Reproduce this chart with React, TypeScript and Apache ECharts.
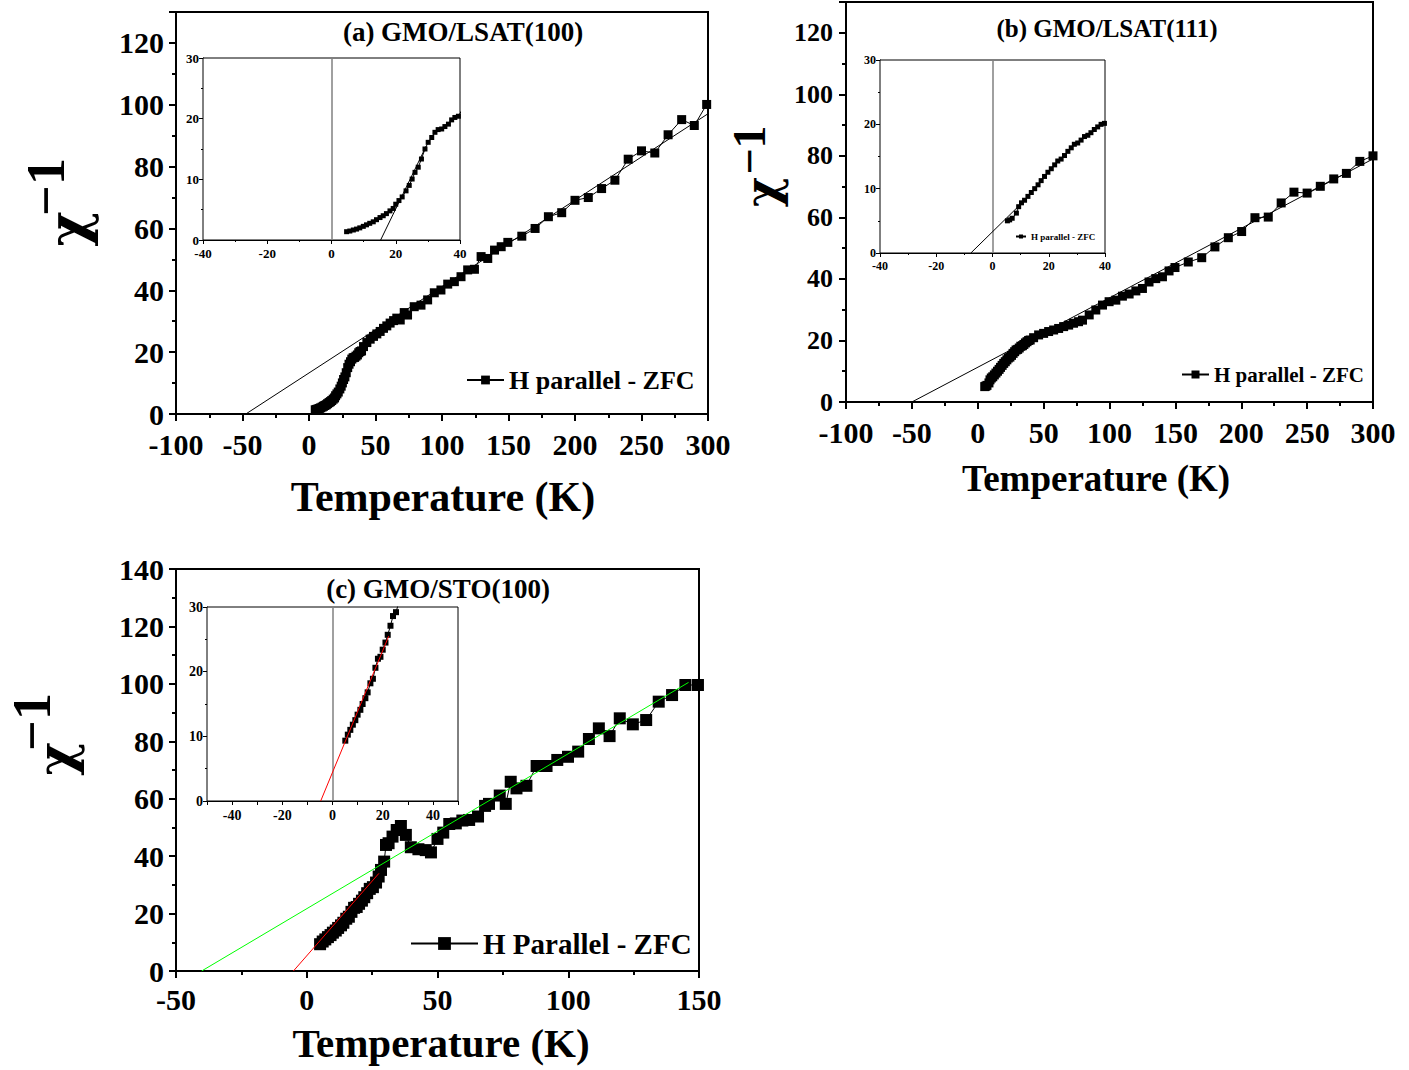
import { useEffect, useRef } from 'react';
import * as echarts from 'echarts';

// (a) GMO/LSAT(100) — temperature (K) and inverse susceptibility
const aTemp = [
  4.7, 5.7, 6.8, 7.8, 8.8, 9.9, 10.9, 11.9, 13, 14, 15.1, 16.1, 17.1, 18.2, 19.2, 20, 21, 22, 23.2, 24.2,
  25.1, 26, 27, 28, 29.1, 30.1, 31.2, 32.2, 33.2, 34.3, 35.3, 36.4, 37.4, 38.4, 39.5,
  41, 43.5, 46, 48.5, 51, 53.5, 56, 58.5, 61, 63.6, 66, 68.6, 71.6, 74.1, 79.1, 84.2, 89.2, 94.2, 99.2, 104.3,
  109.3, 114.3, 119.3, 124.4, 129.4, 134.4, 139.5, 144.5, 149.5, 160, 170, 180, 190, 200, 210, 220, 230, 240,
  250, 260, 270, 280.2, 289.7, 299,
];
const aChi = [
  1.37, 1.48, 1.65, 1.8, 2.0, 2.25, 2.5, 2.75, 3.0, 3.35, 3.7, 4.0, 4.35, 4.8, 5.2, 5.9, 6.5, 7.1, 8.1, 9.0,
  10.05, 11.15, 12, 13.35, 15.0, 16.1, 16.9, 17.75, 18.2, 18.3, 18.7, 19.1, 19.8, 20.2, 20.4,
  21.8, 23.1, 24.2, 25.1, 25.9, 26.7, 27.7, 28.5, 29.4, 30.2, 31, 30.4, 32.8, 32, 34.7, 35.2, 36.9, 39.2, 40.1, 42,
  42.8, 44.4, 46.6, 46.8, 50.9, 50.3, 53, 54.1, 55.5, 57.5, 60, 63.8, 65.1, 69.1, 70, 72.9, 75.6, 82.4,
  85.1, 84.4, 90.3, 95.2, 93.3, 100.1,
];
const aFitTemp = [-47.5, 300];
const aFitChi = [0, 97.1];
const aInsetFitTemp = [15.3, 29.5];
const aInsetFitChi = [0, 15.5];

// (b) GMO/LSAT(111)
const bTemp = [
  5.3, 6.1, 7, 8.5, 9.3, 10.3, 11.4, 12.6, 13.8, 15, 16.2, 17.3, 18.5, 19.7, 20.9, 22.1, 23.2, 24.4, 25.6, 26.8,
  28, 29.1, 30.3, 31.5, 32.7, 33.9, 35, 36.2, 37.4, 38.6, 39.8,
  42.4, 46.2, 50, 53.8, 57.6, 61.4, 65.2, 69, 72.7, 76.5, 79.5, 84.6, 89.6, 94.7, 99.7, 104.8, 109.8, 114.9, 120, 125,
  130, 135.1, 140.2, 145.2, 149.7, 159.8, 170, 180, 190.2, 200.3, 210.4, 220.5, 230.3, 240, 250, 260, 270.2, 279.8,
  290, 300,
];
const bChi = [
  5.0, 5.15, 5.4, 6.2, 7.2, 7.8, 8.2, 8.8, 9.4, 10, 10.6, 11.25, 11.9, 12.55, 13.1, 13.7, 14.3, 14.6, 15.15, 15.8,
  16.35, 16.9, 17.1, 17.55, 18.1, 18.3, 18.7, 19.2, 19.6, 20, 20.15,
  20.9, 21.8, 22.3, 22.9, 23.4, 23.9, 24.5, 25, 25.6, 26.1, 26.6, 28.3, 29.9, 31.5, 32.6, 33.1, 34.4, 35.1, 36.1, 36.9,
  39, 40.1, 40.7, 42.6, 43.7, 45.5, 46.9, 50.4, 53.4, 55.4, 59.9, 60.1, 64.7, 68.2, 67.9, 70.1, 72.5, 74.3,
  78.2, 80,
];
const bFitTemp = [-50, 300];
const bFitChi = [0, 79];
const bInsetFitTemp = [-7.7, 14];
const bInsetFitChi = [0, 9.3];

// (c) GMO/STO(100)
const cTemp = [
  5.1, 6.1, 7.1, 8.1, 9.1, 10, 11.1, 12, 13.1, 14, 15.1, 16.1, 17.1, 18.1, 19.1, 20, 21.1, 22, 23.1, 24.1, 25.3,
  26.5, 27.5, 28.4, 29.6, 30.3, 31.3, 32.8, 34.4, 36, 37.9, 39.8, 42.7, 45.5, 47.5, 50, 52.2, 54.5, 57, 59.5, 62.1,
  65.5, 68.2, 69.7, 73.8, 76.1, 78, 80.2, 84, 87.9, 91.7, 95.8, 99.9, 103.8, 107.9, 111.7, 115.8, 119.7, 124.7,
  129.8, 134.6, 139.7, 144.8, 149.6,
];
const cChi = [
  9.33, 10.26, 11, 11.8, 12.5, 13.35, 14.1, 15, 15.9, 16.8, 18.2, 18.9, 20.6, 22, 22.3, 23.4, 24.5, 25.7, 27.1, 28.6, 29.2,
  30.8, 32.9, 35.2, 38.1, 43.9, 44.5, 46.8, 49.1, 50.5, 47.4, 43.1, 42.4, 42.1, 41.3, 46, 48.2, 51.2, 51.4, 52.4, 52.6,
  53.8, 57.5, 58.2, 61.1, 58.2, 65.9, 63.6, 64.5, 71.4, 71.4, 73.5, 74.6, 76.4, 80.8, 84.5, 81.8, 88, 85.9,
  87.4, 93.8, 96.1, 99.6, 99.6,
];
const cGreenFitTemp = [-40.2, 146];
const cGreenFitChi = [0, 100.5];
const cRedFitTemp = [-5.1, 27.6];
const cRedFitChi = [0, 34];
const cInsetFitTemp = [-4.7, 22.4];
const cInsetFitChi = [0, 25.5];

const FONT = '"Liberation Serif", "Times New Roman", serif';
const CHI_FONT = '"DejaVu Serif", "Liberation Serif", serif';
const zip = (xs: number[], ys: number[]) => xs.map((x, i) => [x, ys[i]]);

const axis = (
  gridIndex: number,
  min: number,
  max: number,
  interval: number,
  fontSize: number,
  margin: number,
  big: boolean,
  extra: any = {},
) => ({
  type: 'value',
  gridIndex,
  min,
  max,
  interval,
  axisLine: { show: true, onZero: false, lineStyle: { color: '#000', width: big ? 2 : 1 } },
  axisTick: { show: true, inside: false, length: big ? 7 : 4, lineStyle: { color: '#000', width: big ? 2 : 1 } },
  minorTick: { show: true, splitNumber: 2, length: big ? 4 : 2, lineStyle: { color: '#000', width: big ? 2 : 1 } },
  axisLabel: { fontSize, fontWeight: 'bold', fontFamily: FONT, color: '#000', margin, ...(extra.label || {}) },
  splitLine: { show: false },
  minorSplitLine: { show: false },
  ...(extra.minorTick ? { minorTick: extra.minorTick } : {}),
});

const dataSeries = (name: string, idx: number, xs: number[], ys: number[], size: number, zeroLine = false) => ({
  name,
  type: 'line',
  xAxisIndex: idx,
  yAxisIndex: idx,
  data: zip(xs, ys),
  symbol: 'rect',
  symbolSize: size,
  lineStyle: { color: '#000', width: 1 },
  itemStyle: { color: '#000' },
  z: idx % 2 ? 6 : 2,
  markLine: zeroLine
    ? {
        silent: true,
        symbol: ['none', 'none'],
        label: { show: false },
        lineStyle: { color: '#808080', width: 1.5, type: 'solid' },
        data: [{ xAxis: 0 }],
      }
    : undefined,
});

const fitSeries = (idx: number, xs: number[], ys: number[], color = '#000') => ({
  type: 'line',
  xAxisIndex: idx,
  yAxisIndex: idx,
  data: zip(xs, ys),
  symbol: 'none',
  lineStyle: { color, width: 1 },
  z: idx % 2 ? 7 : 3,
});

const txt = (x: number, y: number, text: string, fontSize: number, rotation = 0, fontFamily = FONT) => ({
  type: 'text',
  x,
  y,
  rotation,
  z: 10,
  style: {
    text,
    fontSize,
    fontWeight: 'bold',
    fontFamily,
    fill: '#000',
    align: 'center',
    verticalAlign: 'middle',
  },
});

const legend = (name: string, left: number, top: number, itemWidth: number, itemHeight: number, fontSize: number) => ({
  data: [name],
  left,
  top,
  padding: 0,
  itemWidth,
  itemHeight,
  selectedMode: false,
  textStyle: { fontSize, fontWeight: 'bold', fontFamily: FONT, color: '#000' },
});

const App = () => {
  const chartRef = useRef<HTMLDivElement>(null);

  useEffect(() => {
    if (!chartRef.current) return;
    const chart = echarts.init(chartRef.current, undefined, { renderer: 'svg' });

    const mainGrid = { show: true, borderColor: '#000', borderWidth: 2, backgroundColor: 'transparent' };
    const insetGrid = { show: true, borderColor: '#000', borderWidth: 1, backgroundColor: '#fff', z: 1 };
    const noTop = { label: { showMaxLabel: false } };

    const option: any = {
      animation: false,
      backgroundColor: '#fff',
      grid: [
        { ...mainGrid, left: 176, top: 12, width: 532, height: 402 },
        { ...insetGrid, left: 203, top: 58, width: 257, height: 182 },
        { ...mainGrid, left: 846, top: 2, width: 527, height: 400 },
        { ...insetGrid, left: 880, top: 60, width: 225, height: 193 },
        { ...mainGrid, left: 176, top: 569, width: 523, height: 402 },
        { ...insetGrid, left: 207, top: 607, width: 251, height: 194 },
      ],
      xAxis: [
        axis(0, -100, 300, 50, 30, 15, true),
        axis(1, -40, 40, 20, 13, 7, false),
        axis(2, -100, 300, 50, 30, 15, true),
        axis(3, -40, 40, 20, 12, 7, false),
        axis(4, -50, 150, 50, 30, 13, true),
        axis(5, -50, 50, 10, 14, 7, false, {
          minorTick: { show: false },
          label: { formatter: (v: number) => (v % 20 === 0 ? String(v) : '') },
        }),
      ],
      yAxis: [
        axis(0, 0, 130, 20, 30, 12, true, noTop),
        axis(1, 0, 30, 10, 13, 4, false),
        axis(2, 0, 130, 20, 26, 13, true, noTop),
        axis(3, 0, 30, 10, 12, 4, false),
        axis(4, 0, 140, 20, 30, 12, true),
        axis(5, 0, 30, 10, 14, 4, false),
      ],
      legend: [
        legend('H parallel - ZFC', 466, 367, 37, 11, 26),
        legend('H parallel - ZFC', 1181, 364, 27, 10, 21),
        legend('H parallel - ZFC', 1015, 232, 10, 5, 9),
        legend('H Parallel - ZFC', 410, 929, 67, 16, 29),
      ],
      series: [
        dataSeries('H parallel - ZFC', 0, aTemp, aChi, 9),
        fitSeries(0, aFitTemp, aFitChi),
        dataSeries('a inset', 1, aTemp, aChi, 5, true),
        fitSeries(1, aInsetFitTemp, aInsetFitChi),
        dataSeries('H parallel - ZFC', 2, bTemp, bChi, 9),
        fitSeries(2, bFitTemp, bFitChi),
        dataSeries('b inset', 3, bTemp, bChi, 5, true),
        fitSeries(3, bInsetFitTemp, bInsetFitChi),
        dataSeries('H Parallel - ZFC', 4, cTemp, cChi, 12),
        fitSeries(4, cGreenFitTemp, cGreenFitChi, '#00ff00'),
        fitSeries(4, cRedFitTemp, cRedFitChi, '#ff0000'),
        dataSeries('c inset', 5, cTemp, cChi, 6, true),
        fitSeries(5, cInsetFitTemp, cInsetFitChi, '#ff0000'),
      ],
      graphic: [
        txt(463, 32, '(a) GMO/LSAT(100)', 27),
        txt(1107, 28, '(b) GMO/LSAT(111)', 25),
        txt(438, 589, '(c) GMO/STO(100)', 27),
        txt(443, 497, 'Temperature (K)', 42),
        txt(1096, 478, 'Temperature (K)', 37),
        txt(441, 1043, 'Temperature (K)', 41),
        txt(68, 229, 'χ', 54, Math.PI / 2, CHI_FONT),
        txt(46, 187, '−1', 54, Math.PI / 2),
        txt(762, 192, 'χ', 46, Math.PI / 2, CHI_FONT),
        txt(749, 150, '−1', 46, Math.PI / 2),
        txt(55, 759, 'χ', 51, Math.PI / 2, CHI_FONT),
        txt(32, 722, '−1', 54, Math.PI / 2),
      ],
    };

    chart.setOption(option);

    return () => {
      chart.dispose();
    };
  }, []);

  return <div ref={chartRef} style={{ position: 'absolute', left: 0, top: 0, width: 1409, height: 1070 }} />;
};

export default App;
